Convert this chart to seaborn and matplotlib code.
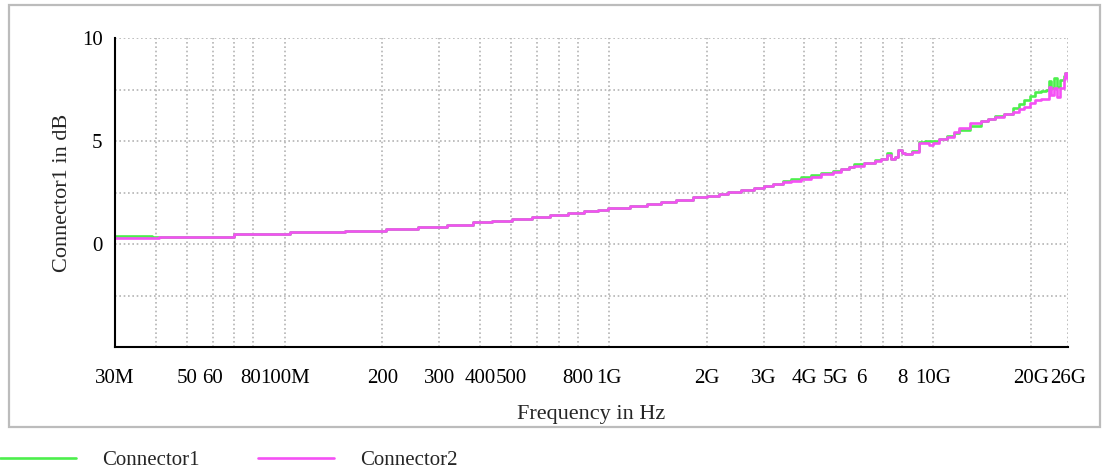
import matplotlib
matplotlib.use("Agg")
import matplotlib.pyplot as plt
from matplotlib.patches import Rectangle
from matplotlib.ticker import NullLocator, FixedLocator, FixedFormatter
from matplotlib.transforms import ScaledTranslation
import numpy as np
import pandas as pd
import seaborn as sns

# ---------------- data ----------------
freq_hz = [30e6, 39e6, 41e6, 70e6, 104e6, 154e6, 205e6, 257e6, 316e6, 382e6,
           436e6, 503e6, 580e6, 660e6, 745e6, 835e6, 925e6, 990e6, 1.16e9, 1.31e9,
           1.45e9, 1.61e9, 1.82e9, 2.0e9, 2.18e9, 2.33e9, 2.56e9, 2.8e9, 3.0e9, 3.2e9,
           3.45e9, 3.64e9, 3.9e9, 4.2e9, 4.5e9, 4.9e9, 5.2e9, 5.5e9, 5.7e9, 6.1e9,
           6.6e9, 6.9e9, 7.2e9, 7.4e9, 7.6e9, 7.8e9, 8.0e9, 8.2e9, 8.6e9, 9.0e9,
           9.4e9, 9.7e9, 10.0e9, 10.4e9, 11.0e9, 11.6e9, 12.0e9, 13.0e9, 14.0e9, 14.7e9,
           15.5e9, 16.5e9, 17.6e9, 18.3e9, 19.0e9, 19.8e9, 20.5e9, 21.5e9, 22.2e9, 22.8e9,
           23.1e9, 23.6e9, 24.1e9, 24.6e9, 25.2e9, 25.5e9, 25.8e9, 26.0e9]

connector1_db = [0.37, 0.33, 0.36, 0.49, 0.57, 0.65, 0.73, 0.83, 0.94, 1.06,
                 1.12, 1.20, 1.30, 1.40, 1.49, 1.59, 1.67, 1.77, 1.85, 1.95,
                 2.05, 2.16, 2.26, 2.35, 2.45, 2.53, 2.63, 2.73, 2.80, 2.92,
                 3.08, 3.17, 3.25, 3.36, 3.45, 3.55, 3.65, 3.75, 3.88, 3.95,
                 4.06, 4.12, 4.42, 4.11, 4.22, 4.58, 4.42, 4.38, 4.50, 4.95,
                 4.98, 4.98, 4.98, 5.11, 5.23, 5.40, 5.52, 5.73, 5.95, 6.09,
                 6.20, 6.33, 6.58, 6.80, 6.98, 7.20, 7.39, 7.45, 7.47, 7.90,
                 7.55, 8.04, 7.63, 7.95, 8.15, 8.28, 8.12, 8.07]

connector2_db = [0.29, 0.27, 0.36, 0.49, 0.57, 0.65, 0.73, 0.83, 0.94, 1.06,
                 1.12, 1.20, 1.30, 1.40, 1.49, 1.59, 1.67, 1.77, 1.85, 1.95,
                 2.05, 2.16, 2.26, 2.35, 2.45, 2.53, 2.63, 2.73, 2.80, 2.92,
                 3.00, 3.06, 3.15, 3.25, 3.38, 3.49, 3.62, 3.72, 3.81, 3.92,
                 4.04, 4.11, 4.30, 4.11, 4.22, 4.55, 4.40, 4.38, 4.48, 4.92,
                 4.90, 4.79, 4.90, 5.08, 5.20, 5.45, 5.63, 5.85, 5.97, 6.09,
                 6.18, 6.30, 6.42, 6.55, 6.66, 6.85, 6.98, 7.02, 7.06, 7.63,
                 7.22, 7.58, 7.15, 7.55, 8.00, 8.28, 8.12, 7.95]

series_names = ["Connector1", "Connector2"]
series_colors = ["#4cef4c", "#f550f5"]

x_tick_freqs = [30e6, 40e6, 50e6, 60e6, 70e6, 80e6, 100e6, 200e6, 300e6, 400e6,
                500e6, 600e6, 700e6, 800e6, 1e9, 2e9, 3e9, 4e9, 5e9, 6e9,
                7e9, 8e9, 10e9, 20e9, 26e9]
x_tick_labels = ["30M", "", "50", "60", "", "80", "100M", "200", "300", "400",
                 "500", "", "", "800", "1G", "2G", "3G", "4G", "5G", "6",
                 "", "8", "10G", "20G", "26G"]
y_ticks = [-2.5, 0, 2.5, 5, 7.5, 10]
y_tick_labels = ["", "0", "", "5", "", "10"]

x_label = "Frequency in Hz"
y_label = "Connector1 in dB"

# ---------------- style ----------------
sns.set_style("white")
plt.rcParams["font.family"] = ["Liberation Serif", "DejaVu Serif"]
FS_TICK = 15
FS_LABEL = 16
FS_LEG = 15

df = pd.concat([
    pd.DataFrame({"freq": freq_hz, "db": connector1_db, "series": series_names[0]}),
    pd.DataFrame({"freq": freq_hz, "db": connector2_db, "series": series_names[1]}),
], ignore_index=True)

W, H = 1102, 475
fig = plt.figure(figsize=(W / 100, H / 100), dpi=100)
fig.patch.set_facecolor("white")

# outer frame
fig.add_artist(Rectangle((9 / W, 1 - 427 / H), (1100 - 9) / W, (427 - 5) / H,
                         transform=fig.transFigure, fill=False,
                         edgecolor="#bcbcbc", linewidth=1.6))

ax = fig.add_axes([115 / W, 1 - 347 / H, (1068 - 115) / W, (347 - 38) / H])
ax.set_xscale("log")

sns.lineplot(data=df, x="freq", y="db", hue="series",
             palette=dict(zip(series_names, series_colors)),
             drawstyle="steps-post", linewidth=1.9, estimator=None,
             sort=True, ax=ax)

ax.set_xlim(30e6, 26e9)
ax.set_ylim(-5, 10)

ax.xaxis.set_major_locator(FixedLocator(x_tick_freqs))
ax.xaxis.set_major_formatter(FixedFormatter(x_tick_labels))
ax.xaxis.set_minor_locator(NullLocator())
ax.yaxis.set_major_locator(FixedLocator(y_ticks))
ax.yaxis.set_major_formatter(FixedFormatter(y_tick_labels))
ax.yaxis.set_minor_locator(NullLocator())

ax.set_axisbelow(True)
ax.grid(True, which="major", color="#b4b4b4", linestyle=(0, (1, 1.6)), linewidth=1.2)

for s in ["top", "right"]:
    ax.spines[s].set_visible(False)
for s in ["left", "bottom"]:
    ax.spines[s].set_color("black")
    ax.spines[s].set_linewidth(1.5)

ax.tick_params(axis="x", direction="inout", length=10, width=1.3, color="black",
               labelsize=FS_TICK, pad=11, labelcolor="black")
ax.tick_params(axis="y", direction="inout", length=10, width=1.3, color="black",
               labelsize=FS_TICK, pad=4, labelcolor="black")

# nudge the "80" label slightly left so it just touches "100M" as in the reference
fig.canvas.draw()
for lbl in ax.get_xticklabels():
    if lbl.get_text() == "80":
        lbl.set_transform(lbl.get_transform() + ScaledTranslation(-3 / 100, 0, fig.dpi_scale_trans))

ax.set_xlabel(x_label, fontsize=FS_LABEL, labelpad=12)
ax.set_ylabel(y_label, fontsize=FS_LABEL, labelpad=7)

sns.move_legend(ax, "center left", bbox_to_anchor=(0.0, 1 - 460 / H),
                bbox_transform=fig.transFigure, ncol=2, frameon=False,
                title=None, fontsize=FS_LEG, handlelength=3.65, handletextpad=1.25,
                columnspacing=2.8, borderpad=0.0, borderaxespad=0.0)

fig.savefig("out.png", dpi=100, facecolor="white")
